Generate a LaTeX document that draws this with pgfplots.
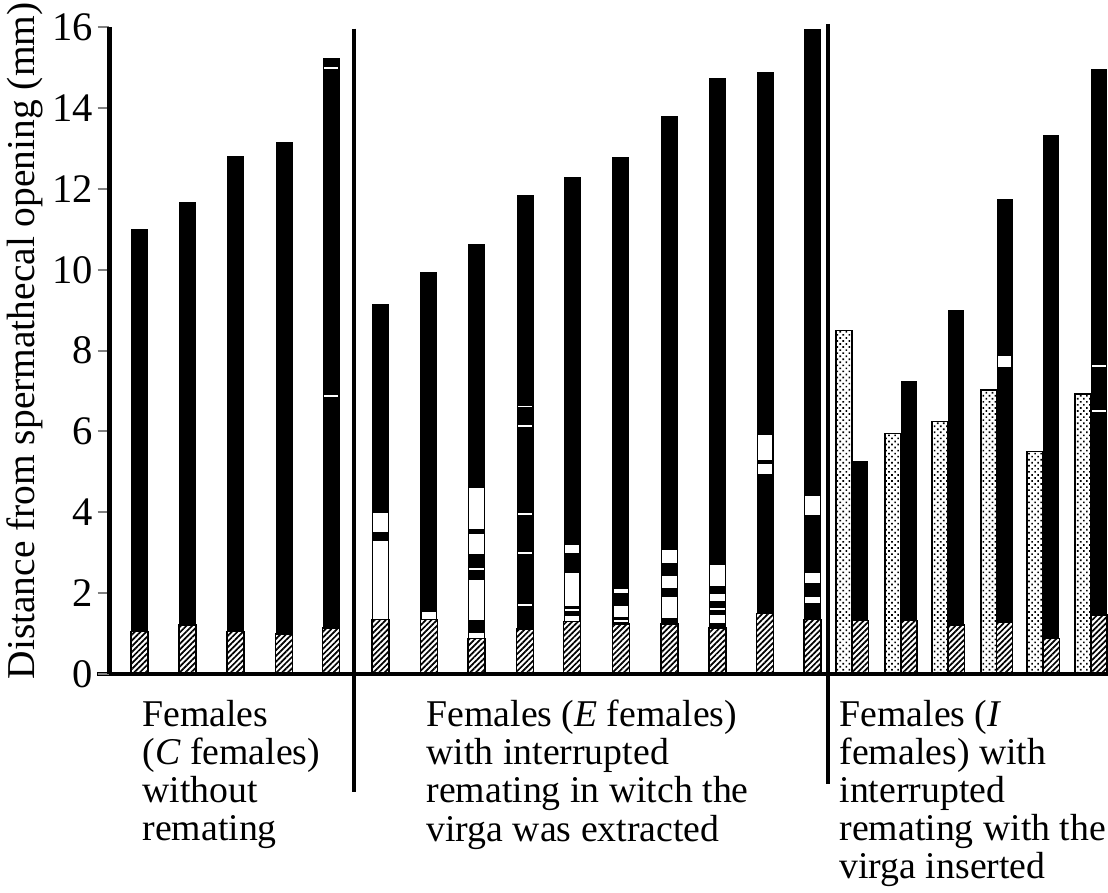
\documentclass[border=0pt]{standalone}
\usepackage{pgfplots}
\pgfplotsset{compat=1.18}
\usepackage{fontspec}
\setmainfont{Liberation Serif}
\usetikzlibrary{patterns.meta}

% layered bar segments: each drawn from 0 up to the given height, later ones on top
\newcommand\Bk[3][17]{\addplot[ybar,bar shift=0pt,bar width=#1,fill=black,draw=none] coordinates {(#2,#3)};}
\newcommand\Wh[3][14.5]{\addplot[ybar,bar shift=0pt,bar width=#1,fill=white,draw=none] coordinates {(#2,#3)};}
\newcommand\Ki[3][14.5]{\addplot[ybar,bar shift=0pt,bar width=#1,fill=black,draw=none] coordinates {(#2,#3)};}
\newcommand\Ht[3][17]{\addplot[ybar,bar shift=0pt,bar width=#1,draw=black,line width=0.55pt,fill=white,postaction={pattern={Lines[angle=45,distance=1.45pt,line width=0.62pt]}}] coordinates {(#2,#3)};}
\newcommand\Dt[3][16]{\addplot[ybar,bar shift=0pt,bar width=#1,draw=black,line width=0.6pt,fill=white,postaction={pattern={Dots[distance=1.55pt,radius=0.42pt,angle=45]}}] coordinates {(#2,#3)};}

\begin{document}
\begin{tikzpicture}
\begin{axis}[
  x=0.36pt, y=14.544pt,
  xmin=109.5, xmax=1108, ymin=0, ymax=16,
  axis lines*=left,
  axis line style={line width=1.5pt},
  axis on top,
  clip=false,
  xtick=\empty,
  ytick={0,2,...,16},
  tick align=outside,
  major tick length=4.3pt,
  ytick style={line width=0.7pt},
  /pgf/number format/assume math mode=true,
  yticklabel style={font=\fontsize{14.6}{15}\selectfont, anchor=east, inner sep=0pt, xshift=-1.4pt},
]
% ---- C females
\Bk{139.7}{11.0} \Ht{139.7}{1.05}
\Bk{187.5}{11.69} \Ht{187.5}{1.21}
\Bk{235.3}{12.82} \Ht{235.3}{1.05}
\Bk{284.2}{13.17} \Ht{284.2}{0.99}
\Bk{331}{15.24} \Wh{331}{15.02} \Ki{331}{14.98} \Wh{331}{6.90} \Ki{331}{6.86} \Ht{331}{1.14}
% ---- E females
\Bk{380.3}{9.15} \Wh{380.3}{3.98} \Ki{380.3}{3.50} \Wh{380.3}{3.28} \Ht{380.3}{1.34}
\Bk{428.8}{9.95} \Wh{428.8}{1.52} \Ht{428.8}{1.34}
\Bk{476.7}{10.65} \Wh{476.7}{4.61} \Ki{476.7}{3.59} \Wh{476.7}{3.46} \Ki{476.7}{2.96}
  \Wh{476.7}{2.62} \Ki{476.7}{2.57} \Wh{476.7}{2.33} \Ki{476.7}{1.33} \Wh{476.7}{1.01} \Ht{476.7}{0.87}
\Bk{525}{11.85} \Wh{525}{6.64} \Ki{525}{6.60} \Wh{525}{6.16} \Ki{525}{6.12} \Wh{525}{3.97} \Ki{525}{3.93}
  \Wh{525}{3.01} \Ki{525}{2.97} \Wh{525}{1.73} \Ki{525}{1.69} \Ht{525}{1.11}
\Bk{572}{12.3} \Wh{572}{3.18} \Ki{572}{2.99} \Wh{572}{2.49} \Ki{572}{1.68} \Wh{572}{1.60} \Ki{572}{1.55}
  \Wh{572}{1.44} \Ht{572}{1.30}
\Bk{620.8}{12.8} \Wh{620.8}{2.10} \Ki{620.8}{2.00} \Wh{620.8}{1.69} \Ki{620.8}{1.42} \Wh{620.8}{1.33}
  \Ki{620.8}{1.29} \Ht{620.8}{1.23}
\Bk{669.7}{13.8} \Wh{669.7}{3.07} \Ki{669.7}{2.74} \Wh{669.7}{2.43} \Ki{669.7}{2.12} \Wh{669.7}{1.91}
  \Ki{669.7}{1.38} \Ht{669.7}{1.24}
\Bk{717.5}{14.75} \Wh{717.5}{2.70} \Ki{717.5}{2.18} \Wh{717.5}{1.97} \Ki{717.5}{1.81} \Wh{717.5}{1.64}
  \Ki{717.5}{1.58} \Wh{717.5}{1.46} \Ki{717.5}{1.25} \Ht{717.5}{1.13}
\Bk{765.2}{14.9} \Wh{765.2}{5.92} \Ki{765.2}{5.30} \Wh{765.2}{5.19} \Ki{765.2}{4.94} \Ht{765.2}{1.49}
\Bk{812.5}{15.97} \Wh{812.5}{4.41} \Ki{812.5}{3.94} \Wh{812.5}{2.49} \Ki{812.5}{2.24} \Wh{812.5}{1.91}
  \Ki{812.5}{1.75} \Ht{812.5}{1.34}
% ---- I females: dotted bar + black bar pairs
\Dt{844.3}{8.5}   \Bk[16]{860.3}{5.26}  \Ht[16]{860.3}{1.32}
\Dt{893}{5.95}    \Bk[16]{909}{7.25}    \Ht[16]{909}{1.32}
\Dt{940.3}{6.25}  \Bk[16]{956.3}{9.0}   \Ht[16]{956.3}{1.21}
\Dt{988.7}{7.02}  \Bk[16]{1004.7}{11.76} \Wh[13.5]{1004.7}{7.88} \Ki[13.5]{1004.7}{7.60} \Ht[16]{1004.7}{1.27}
\Dt{1035.3}{5.5}  \Bk[16]{1051.3}{13.33} \Ht[16]{1051.3}{0.88}
\Dt{1083}{6.93}   \Bk[16]{1099}{14.98}  \Wh[13.5]{1099}{7.64} \Ki[13.5]{1099}{7.60} \Wh[13.5]{1099}{6.52} \Ki[13.5]{1099}{6.48} \Ht[16]{1099}{1.46}

% x axis line continues a little left of the y axis
\draw[line width=1.5pt] (axis cs:97,0) -- (axis cs:110,0);

% group dividers
\draw[line width=1.44pt] (axis cs:353.5,15.97) -- (axis cs:353.5,-2.93);
\draw[line width=1.44pt] (axis cs:827.5,16.09) -- (axis cs:827.5,-2.72);

% group labels
\node[anchor=north west, inner sep=0pt, align=left, font=\fontsize{13.6}{13.7}\selectfont]
  at (axis cs:142,-0.64) {Females\\(\textit{C} females)\\without\\remating};
\node[anchor=north west, inner sep=0pt, align=left, font=\fontsize{13.6}{13.7}\selectfont]
  at (axis cs:426,-0.64) {Females (\textit{E} females)\\with interrupted\\remating in witch the\\virga was extracted};
\node[anchor=north west, inner sep=0pt, align=left, font=\fontsize{13.6}{13.7}\selectfont]
  at (axis cs:839,-0.64) {Females (\textit{I}\\females) with\\interrupted\\remating with the\\virga inserted};

% y label
\node[rotate=90, inner sep=0pt, font=\fontsize{14.2}{15}\selectfont]
  at (axis cs:25,8.24) {Distance from spermathecal opening (mm)};

\coordinate (bbA) at (axis cs:0,-5.40);
\coordinate (bbB) at (axis cs:1108,16.68);
\end{axis}
\pgfresetboundingbox
\path[use as bounding box] (bbA) rectangle (bbB);
\end{tikzpicture}
\end{document}
